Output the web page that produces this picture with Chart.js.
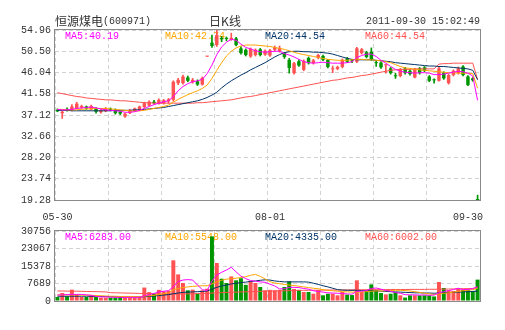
<!DOCTYPE html>
<html><head><meta charset="utf-8">
<script src="https://cdn.jsdelivr.net/npm/chart.js@4/dist/chart.umd.min.js"></script>
<style>
html,body{margin:0;padding:0;background:#fff;}
#wrap{position:relative;width:505px;height:330px;background:#fff;}
canvas{position:absolute;left:0;top:0;}
</style></head><body>
<div id="wrap"><canvas id="k" width="505" height="330"></canvas><canvas id="v" width="505" height="330"></canvas></div>
<script>
// ---------- data ----------
const dates = ['05-30','05-31',
 '06-01','06-02','06-03','06-07','06-08','06-09','06-10','06-13','06-14','06-15','06-16','06-17','06-20','06-21','06-22','06-23','06-24','06-27','06-28','06-29','06-30',
 '07-01','07-04','07-05','07-06','07-07','07-08','07-11','07-12','07-13','07-14','07-15','07-18','07-19','07-20','07-21','07-22','07-25','07-26','07-27','07-28','07-29',
 '08-01','08-02','08-03','08-04','08-05','08-08','08-09','08-10','08-11','08-12','08-15','08-16','08-17','08-18','08-19','08-22','08-23','08-24','08-25','08-26','08-29','08-30','08-31',
 '09-01','09-02','09-05','09-06','09-07','09-08','09-09','09-13','09-14','09-15','09-16','09-19','09-20','09-21','09-22','09-23','09-26','09-27','09-28','09-29','09-30'];
const open = [38.2,37.5,38.4,38.2,38.5,38.7,38.9,38.3,38.5,37.7,
 37.9,38.4,38.2,37.8,36.8,37.5,38.0,38.1,38.8,39.1,
 39.9,39.5,39.6,40.0,40.3,43.8,43.8,45.0,44.0,44.2,
 43.5,49.38,52.3,51.8,53.3,53.3,52.9,53.2,51.1,50.8,
 49.4,49.7,50.9,49.8,49.6,50.8,50.5,50.1,48.7,45.9,
 48.4,46.6,49.1,48.0,49.1,49.5,48.7,46.7,46.8,47.2,
 49.0,48.5,48.3,50.1,50.3,50.4,48.2,48.1,47.55,46.9,
 45.35,45.3,46.9,46.4,45.0,46.9,47.1,45.2,44.5,44.3,
 46.0,43.8,45.5,45.9,47.3,45.2,44.8,19.35];
const high = [38.4,38.0,38.6,39.3,39.8,39.2,39.0,39.2,38.7,38.3,
 38.7,38.6,38.4,38.0,37.5,38.3,38.6,39.0,39.8,40.1,
 40.2,40.5,40.4,40.6,44.3,44.8,45.5,45.3,44.8,44.5,
 45.1,49.4,53.9,54.96,53.6,53.5,54.3,53.4,51.5,51.0,
 51.2,51.0,51.1,50.8,50.9,51.6,51.6,50.3,49.0,48.2,
 48.7,48.7,49.3,48.8,49.9,49.7,48.8,47.4,47.4,48.9,
 49.2,48.8,51.3,51.1,50.5,51.2,48.5,48.3,47.7,47.1,
 45.9,46.9,47.1,46.6,46.9,47.1,47.3,45.4,44.7,47.3,
 46.2,45.7,46.6,47.2,47.5,45.4,45.0,20.3];
const low = [37.8,36.4,37.9,38.0,38.4,38.5,38.3,38.2,37.5,37.5,
 37.8,38.0,37.3,37.2,36.6,37.4,37.9,38.0,38.6,39.0,
 39.4,39.4,39.4,39.6,40.0,43.5,43.6,44.1,43.8,43.3,
 43.4,49.38,51.3,51.5,52.5,52.7,52.8,51.6,49.9,49.5,
 49.2,49.5,49.5,49.6,49.4,50.5,50.3,49.0,45.9,45.7,
 47.3,46.4,47.8,47.8,48.9,48.5,47.0,46.0,46.6,47.0,
 48.1,48.1,48.1,49.9,49.1,48.6,47.3,46.9,45.9,45.7,
 44.8,45.1,45.7,45.5,44.9,45.7,46.2,44.1,43.8,44.2,
 44.6,43.6,45.3,45.7,45.3,43.3,44.2,19.28];
const close = [37.9,37.8,38.1,38.9,39.5,39.0,38.5,39.0,37.8,38.1,
 38.5,38.2,37.5,37.4,37.4,38.2,38.5,38.9,39.6,39.9,
 39.6,40.3,40.2,40.4,44.1,44.5,45.2,44.3,44.5,43.5,
 44.9,49.4,51.6,53.9,53.0,53.1,53.3,51.8,50.1,49.7,
 51.0,50.8,49.7,50.6,50.7,51.3,51.2,49.3,47.0,48.0,
 47.5,48.5,48.0,48.6,49.7,48.7,47.2,46.9,47.2,48.7,
 48.3,48.4,51.1,50.9,49.3,48.8,48.0,47.1,47.6,45.9,
 45.25,46.7,45.9,45.7,46.7,45.9,46.4,44.3,44.4,46.9,
 44.8,45.5,46.4,46.9,45.5,43.4,44.4,19.28];
const ma5 = [38.3,38.2,38.2,38.3,38.5,38.6,38.7,38.8,38.6,38.4,
 38.2,38.1,38.0,37.9,37.7,37.7,37.8,38.1,38.5,38.9,
 39.3,39.6,39.9,40.1,41.0,42.2,43.1,43.7,44.1,44.3,
 44.6,45.8,47.6,49.8,51.4,52.4,53.0,52.8,52.0,51.3,
 51.0,50.6,50.4,50.3,50.4,50.5,50.5,50.0,49.7,49.3,
 48.8,48.3,48.1,48.0,48.1,48.2,48.1,48.0,48.0,48.0,
 48.1,48.3,49.2,49.6,49.9,49.9,49.4,48.6,48.0,47.3,
 46.7,46.3,46.1,46.0,45.9,46.0,46.0,45.9,45.6,45.6,
 45.7,45.9,46.1,46.3,46.2,45.9,45.3,40.19];
const ma10 = [38.3,38.3,38.2,38.2,38.2,38.3,38.4,38.4,38.5,38.5,
 38.5,38.4,38.3,38.2,38.1,38.0,37.9,38.0,38.1,38.3,
 38.5,38.7,38.9,39.2,39.8,40.4,40.9,41.4,41.8,42.2,
 42.7,43.4,44.8,46.5,48.1,49.5,50.5,51.2,51.6,51.8,
 51.8,51.8,51.7,51.6,51.5,51.3,51.1,50.9,50.6,50.3,
 50.0,49.8,49.6,49.4,49.2,49.0,48.8,48.7,48.6,48.6,
 48.6,48.7,48.8,48.8,48.7,48.7,48.6,48.5,48.3,48.1,
 47.7,47.3,47.0,46.9,46.7,46.6,46.5,46.4,46.3,46.2,
 46.1,46.0,46.0,45.9,45.9,45.9,45.8,42.74];
const ma20 = [38.1,38.1,38.1,38.0,38.0,38.0,38.0,38.0,38.0,38.0,
 38.0,38.0,38.1,38.1,38.1,38.1,38.2,38.2,38.3,38.4,
 38.5,38.6,38.7,38.9,39.1,39.3,39.5,39.7,39.9,40.1,
 40.4,40.8,41.3,41.9,42.8,43.6,44.3,44.9,45.5,46.0,
 46.6,47.1,47.6,48.1,48.7,49.3,49.8,50.2,50.4,50.5,
 50.5,50.4,50.4,50.3,50.3,50.2,50.1,49.9,49.6,49.3,
 49.0,48.8,48.7,48.7,48.7,48.7,48.6,48.5,48.4,48.3,
 48.1,48.0,47.9,47.8,47.7,47.6,47.5,47.4,47.4,47.3,
 47.3,47.2,47.1,47.0,46.9,46.8,46.5,44.54];
const ma60 = [41.8,41.6,41.4,41.2,41.0,40.9,40.7,40.6,40.5,40.4,
 40.3,40.3,40.2,40.1,40.1,40.0,39.9,39.8,39.7,39.7,
 39.6,39.6,39.6,39.6,39.6,39.6,39.6,39.6,39.6,39.7,
 39.7,39.8,39.9,40.0,40.1,40.2,40.3,40.5,40.7,40.9,
 41.0,41.2,41.4,41.6,41.8,42.0,42.2,42.4,42.6,42.8,
 43.0,43.2,43.4,43.6,43.8,44.0,44.2,44.4,44.5,44.7,
 44.9,45.0,45.2,45.4,45.5,45.7,45.9,46.1,46.3,46.5,
 46.6,46.7,46.7,46.7,46.8,46.8,46.8,46.8,46.8,47.8,
 47.9,47.9,48.0,48.0,48.0,48.0,48.0,44.54];
const volume = [1760,3500,2050,4980,2930,1760,1760,2490,1760,1460,
 1460,1460,1460,1760,1460,1460,1460,1760,5900,3900,
 3300,4900,4300,4500,17870,11700,7900,4700,5000,3300,
 4700,5400,28400,16700,9800,7900,10800,9100,10000,7100,
 8800,7900,6150,4700,4900,4700,4900,6150,8650,5300,
 4900,3950,3950,3200,4800,2500,3200,3200,2500,3950,
 2800,2600,9080,3950,4700,7300,4700,3500,2900,3200,
 3950,2500,1500,2500,2500,2500,2500,2500,2000,8350,
 5700,4700,4400,5400,5000,5000,4400,9400];
const volMa5 = [2600,2700,2800,2900,2900,2900,2700,2500,2000,1800,
 1800,1700,1600,1600,1600,1600,1600,1600,2300,2800,
 3300,4000,4300,4500,6300,8600,9200,9400,9200,7000,
 5000,4600,8800,11400,12600,13600,14800,12800,10900,9800,
 9000,8700,8400,8200,7400,6600,5300,5400,6000,6000,
 5900,5500,5200,4500,4200,3900,3600,3500,3400,3300,
 3100,3000,4300,4300,4600,5500,5700,5200,4600,4300,
 3700,3400,2800,2700,2700,2600,2700,2500,2600,3600,
 4100,4600,5000,5600,5000,5100,5400,6283];
const volMa10 = [2700,2700,2700,2700,2700,2600,2600,2500,2400,2300,
 2200,2100,2100,2000,2000,2000,1900,1900,2100,2300,
 2500,2800,3200,3600,4900,5500,5900,6200,6400,6600,
 6700,6700,7500,8400,9100,9600,9800,10000,10300,10700,
 11300,11700,10800,9700,8500,7900,7600,7300,7000,6800,
 6500,6200,5900,5600,5400,5000,4700,4500,4300,4100,
 4000,3900,3900,4000,4100,4300,4400,4400,4500,4600,
 4700,4700,4600,4400,4100,3800,3400,3100,2900,3100,
 3400,3600,3900,4200,4500,4700,5000,5548];
const volMa20 = [2100,2100,2100,2100,2100,2100,2100,2050,2000,2000,
 1950,1900,1850,1800,1800,1800,1800,1800,1900,2000,
 2200,2400,2600,2800,3200,3500,3800,3900,4000,4100,
 4200,4400,5200,6000,6600,7000,7500,7800,8100,8300,
 8600,8800,9100,9300,9200,8800,8600,8400,8400,8400,
 8400,8400,8300,7800,7300,6700,6200,5600,5000,4800,
 4700,4700,4700,4600,4500,4500,4400,4300,4200,4100,
 4000,3900,3800,3700,3600,3600,3500,3500,3400,3500,
 3600,3700,3800,3900,4000,4100,4200,4335];
const volMa60 = [4400,4400,4350,4300,4300,4250,4200,4150,4100,4050,
 4000,3650,3600,3550,3500,3450,3400,3350,3300,3250,
 3200,3000,2950,2950,3000,3050,3100,3150,3200,3250,
 3300,3350,3500,3600,3700,3750,3800,3900,4000,4050,
 4100,4200,4250,4300,4350,4400,4450,4500,4550,4600,
 4650,4700,4700,4750,4750,4800,4800,4800,4850,4850,
 4850,4900,4900,4950,4950,5000,5000,5000,5000,5050,
 5050,5050,5050,5100,5100,5100,5100,5150,5150,5200,
 5200,5250,5300,5350,5400,5450,5500,6002];
const priceTicks = [19.28,23.74,28.20,32.66,37.12,41.58,46.04,50.50,54.96];
const priceTickLabels = ['19.28','23.74','28.20','32.66','37.12','41.58','46.04','50.50','54.96'];
const volTicks = [0,7689,15378,23067,30756];
const volTickLabels = ['0','7689','15378','23067','30756'];
const xTickDates = ['05-30','08-01','09-30'];
const stockName = '恒源煤电';
const stockCode = '(600971)';
const periodName = '日K线';
const stamp = '2011-09-30 15:02:49';
const priceMaLabels = ['MA5:40.19','MA10:42.74','MA20:44.54','MA60:44.54'];
const volMaLabels = ['MA5:6283.00','MA10:5548.00','MA20:4335.00','MA60:6002.00'];

// ---------- styles ----------
const UP = '#ff5252', DOWN = '#009600';
const MA_COLORS = ['#ff00ff','#ffa500','#003366','#ff5050'];
const MONO = '10px "Liberation Mono", "DejaVu Sans Mono", monospace';
const CJK = '12px "Noto Sans CJK SC", sans-serif';
const GRID = '#d2d2d2';
const TXT = '#333333';
const candleColor = close.map((c,i)=> c >= open[i] ? UP : DOWN);

function xGridScale(){
  return {type:'linear', position:'bottom', min:0, max:dates.length, display:true,
    ticks:{display:false, stepSize:dates.length/8},
    grid:{color:GRID, drawTicks:false, lineWidth:1},
    border:{display:false, dash:[4,3]},
    afterFit(s){ s.height = 0; }};
}
function yScale(min,max,ticks,labels){
  return {min:min, max:max,
    afterBuildTicks(s){ s.ticks = ticks.map(v=>({value:v})); },
    ticks:{font:{family:'"Liberation Mono", "DejaVu Sans Mono", monospace', size:10}, color:TXT, padding:4,
      callback:(v,i)=>labels[i]},
    grid:{color:GRID, drawTicks:false, lineWidth:1},
    border:{display:false, dash:[4,3]},
    afterFit(s){ s.width = 55; }};
}
function maLine(data,color){
  return {type:'line', data:data, borderColor:color, borderWidth:1, pointRadius:0, tension:0,
    fill:false, order:1, xAxisID:'x', yAxisID:'y'};
}
const framePlugin = {id:'frame', afterDraw(chart){
  const a = chart.chartArea, ctx = chart.ctx;
  ctx.save(); ctx.strokeStyle = '#8a8a8a'; ctx.lineWidth = 1;
  ctx.strokeRect(Math.round(a.left)-0.5, Math.round(a.top)-0.5, Math.round(a.right-a.left)+1, Math.round(a.bottom-a.top)+1);
  ctx.restore();
}};
function maTextPlugin(labels){
  return {id:'maText', beforeDatasetsDraw(chart){
    const a = chart.chartArea, ctx = chart.ctx;
    ctx.save(); ctx.font = MONO; ctx.textBaseline = 'middle'; ctx.textAlign = 'left';
    labels.forEach((t,i)=>{ ctx.fillStyle = MA_COLORS[i]; ctx.fillText(t, a.left + 10 + i*100, a.top + 6.5); });
    ctx.restore();
  }};
}
const headerPlugin = {id:'header', afterDraw(chart){
  const a = chart.chartArea, ctx = chart.ctx;
  ctx.save(); ctx.textBaseline = 'middle'; ctx.fillStyle = TXT;
  ctx.font = CJK; ctx.textAlign = 'left';
  ctx.fillText(stockName, a.left, 21);
  const w = ctx.measureText(stockName).width;
  ctx.font = MONO; ctx.fillText(stockCode, a.left + w, 21);
  ctx.font = CJK; ctx.textAlign = 'center';
  ctx.fillText(periodName, 225, 21);
  ctx.font = MONO; ctx.textAlign = 'right';
  ctx.fillText(stamp, a.right, 21);
  // x labels
  const xs = chart.scales.x;
  ctx.font = MONO;
  xTickDates.forEach((d)=>{
    const idx = dates.indexOf(d);
    let px = xs.getPixelForValue(idx);
    const tw = ctx.measureText(d).width;
    ctx.textAlign = 'center';
    if (px + tw/2 > a.right + 3) px = a.right + 3 - tw/2;
    ctx.fillText(d, px, 217);
  });
  ctx.restore();
}};

// ---------- price chart ----------
new Chart(document.getElementById('k'), {
  data:{labels:dates, datasets:[
    maLine(ma5, MA_COLORS[0]), maLine(ma10, MA_COLORS[1]), maLine(ma20, MA_COLORS[2]), maLine(ma60, MA_COLORS[3]),
    {type:'bar', data:dates.map((d,i)=>[low[i],high[i]]), backgroundColor:candleColor, barThickness:1,
      grouped:false, order:3, xAxisID:'x', yAxisID:'y'},
    {type:'bar', data:dates.map((d,i)=>[open[i],close[i]]), backgroundColor:candleColor,
      barPercentage:0.72, categoryPercentage:1, minBarLength:1, grouped:false, order:2, xAxisID:'x', yAxisID:'y'}
  ]},
  options:{responsive:false, animation:false, events:[],
    layout:{padding:{top:30, bottom:130, left:0, right:25}},
    plugins:{legend:{display:false}, tooltip:{enabled:false}},
    scales:{
      x:{type:'category', display:false, offset:true},
      xg:xGridScale(),
      y:yScale(19.28, 54.96, priceTicks, priceTickLabels)
    }},
  plugins:[framePlugin, maTextPlugin(priceMaLabels), headerPlugin]
});

// ---------- volume chart ----------
new Chart(document.getElementById('v'), {
  data:{labels:dates, datasets:[
    maLine(volMa5, MA_COLORS[0]), maLine(volMa10, MA_COLORS[1]), maLine(volMa20, MA_COLORS[2]), maLine(volMa60, MA_COLORS[3]),
    {type:'bar', data:volume, backgroundColor:candleColor, barPercentage:0.82, categoryPercentage:1,
      grouped:false, order:2, xAxisID:'x', yAxisID:'y'}
  ]},
  options:{responsive:false, animation:false, events:[],
    layout:{padding:{top:231, bottom:29, left:0, right:25}},
    plugins:{legend:{display:false}, tooltip:{enabled:false}},
    scales:{
      x:{type:'category', display:false, offset:true},
      xg:xGridScale(),
      y:yScale(0, 30756, volTicks, volTickLabels)
    }},
  plugins:[framePlugin, maTextPlugin(volMaLabels)]
});
</script>
</body></html>
